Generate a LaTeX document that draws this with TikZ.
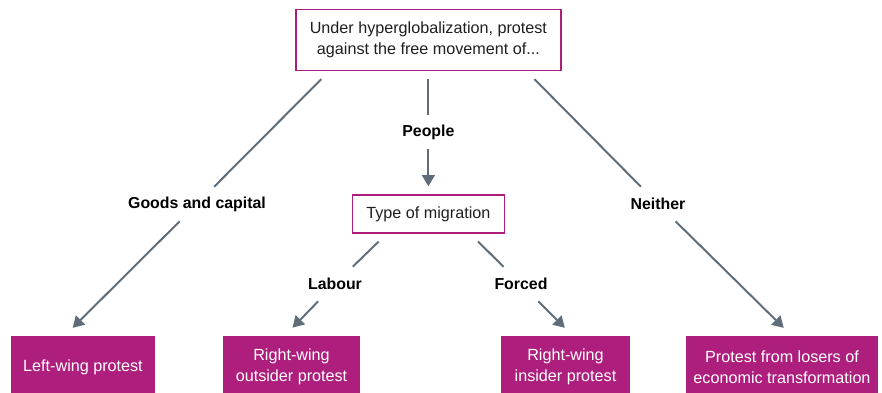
\documentclass[tikz,border=0pt]{standalone}
\usepackage{fontspec}
\setmainfont{Liberation Sans}
\usetikzlibrary{arrows.meta, positioning}

\definecolor{protest}{HTML}{AE1F7D}
\definecolor{arrowgrey}{HTML}{5F6D7A}

\begin{document}
\begin{tikzpicture}[
  qbox/.style={draw=protest, line width=1pt, fill=white, align=center, inner sep=0pt,
               font=\fontsize{11.5}{15}\selectfont, text=black!88},
  result/.style={fill=protest, align=center, inner sep=0pt, minimum height=1.55cm,
                 font=\fontsize{11.5}{15}\selectfont, text=white},
  lbl/.style={font=\fontsize{11.3}{15}\selectfont\bfseries, minimum height=0.85cm, inner sep=0pt},
  lnk/.style={line width=1.4pt, arrowgrey},
  arr/.style={-{Triangle[length=2.8mm, width=3.2mm]}, line width=1.4pt, arrowgrey}
]
\useasboundingbox (0,0) rectangle (22.05,-9.8);

% questions
\node[qbox, minimum width=6.625cm, minimum height=1.525cm] (root) at (10.71,-1.0)
  {Under hyperglobalization, protest\\against the free movement of...};
\node[qbox, minimum width=3.8cm, minimum height=0.95cm] (mig) at (10.71,-5.35) {Type of migration};

% outcomes
\node[result, minimum width=3.6cm] (left) at (2.075,-9.175) {Left-wing protest};
\node[result, minimum width=3.425cm] (outsider) at (7.2875,-9.175) {Right-wing\\outsider protest};
\node[result, minimum width=3.225cm] (insider) at (14.1375,-9.175) {Right-wing\\insider protest};
\node[result, minimum width=4.8cm] (losers) at (19.55,-9.175) {Protest from losers of\\economic transformation};

% branch labels
\node[lbl] (people) at (10.71,-3.3) {People};
\node[lbl] (goods) at (4.925,-5.1) {Goods and capital};
\node[lbl] (neither) at (16.45,-5.1) {Neither};
\node[lbl] (labour) at (8.375,-7.1) {Labour};
\node[lbl] (forced) at (13.025,-7.1) {Forced};

\draw[lnk, shorten <=0.2cm] (root) -- (people);
\draw[arr, shorten >=0.2cm] (people) -- (mig);

\draw[lnk, shorten <=0.28cm] ([xshift=0.85cm]root.south west) -- (goods);
\draw[arr, shorten >=0.28cm] (goods) -- ([xshift=1.35cm]left.north west);

\draw[lnk, shorten <=0.28cm] ([xshift=-0.875cm]root.south east) -- (neither);
\draw[arr, shorten >=0.28cm] (neither) -- ([xshift=2.65cm]losers.north west);

\draw[lnk, shorten <=0.28cm] ([xshift=0.875cm]mig.south west) -- (labour);
\draw[arr, shorten >=0.28cm] (labour) -- ([xshift=1.55cm]outsider.north west);

\draw[lnk, shorten <=0.28cm] ([xshift=-0.875cm]mig.south east) -- (forced);
\draw[arr, shorten >=0.28cm] (forced) -- ([xshift=1.8cm]insider.north west);
\end{tikzpicture}
\end{document}
